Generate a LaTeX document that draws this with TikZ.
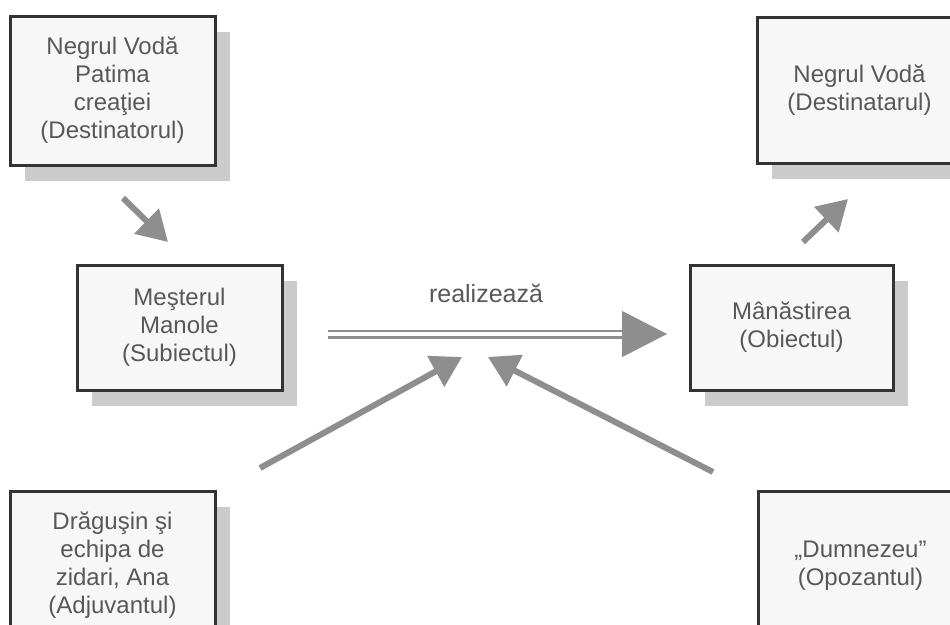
\documentclass[tikz,border=0pt]{standalone}
\usepackage{fontspec}
\setmainfont{Liberation Sans}
\usepackage{tikz}
\usetikzlibrary{shapes,arrows.meta,shadows}
\definecolor{boxline}{HTML}{333333}
\definecolor{boxfill}{HTML}{F7F7F7}
\definecolor{boxshade}{HTML}{CBCBCB}
\definecolor{arrowgray}{HTML}{8E8E8E}
\definecolor{textgray}{HTML}{585858}
\tikzstyle{actant} = [rectangle, draw=boxline, line width=3pt, fill=boxfill, text=textgray, minimum width=205pt, align=center, font=\fontsize{24}{28}\selectfont, drop shadow={shadow xshift=15pt, shadow yshift=-16pt, fill=boxshade, opacity=1}]
\tikzstyle{push} = [draw=arrowgray, line width=6pt, -{Triangle[length=30pt, width=34pt]}]
\tikzstyle{realize} = [draw=arrowgray, double=white, double distance=4pt, line width=2.5pt]
\tikzstyle{realize_head} = [draw=arrowgray, line width=1pt, -{Triangle[length=45pt, width=46pt]}]

\begin{document}
\begin{tikzpicture}[x=1pt, y=-1pt]
      \useasboundingbox (0,0) rectangle (950,624);
      \clip (0,0) rectangle (950,624);
      \node [actant, minimum height=149pt] (destinator) at (112.5,90.5) {Negrul Vodă\\Patima\\creaţiei\\(Destinatorul)};
      \node [actant, minimum height=146pt] (destinatar) at (859.5,90) {Negrul Vodă\\(Destinatarul)};
      \node [actant, minimum height=125pt] (subiect) at (179.5,327.5) {Meşterul\\Manole\\(Subiectul)};
      \node [actant, minimum height=125pt, minimum width=203pt] (obiect) at (791.5,327.5) {Mânăstirea\\(Obiectul)};
      \node [actant, minimum height=149pt] (adjuvant) at (112.5,565.5) {Drăguşin şi\\echipa de\\zidari, Ana\\(Adjuvantul)};
      \node [actant, minimum height=149pt] (opozant) at (860.5,566) {„Dumnezeu”\\(Opozantul)};
      \node [text=textgray, font=\fontsize{25}{30}\selectfont] (verb) at (486,293) {realizează};

      % free ends of the arrows
      \coordinate (dest_tail) at (123,198);
      \coordinate (dest_tip) at (168,242);
      \coordinate (destin_tail) at (803,242);
      \coordinate (destin_tip) at (848,199);
      \coordinate (real_start) at (328,334);
      \coordinate (real_head) at (622,334);
      \coordinate (real_tip) at (667,334);
      \coordinate (adj_tail) at (260,468);
      \coordinate (adj_tip) at (462,357);
      \coordinate (opoz_tail) at (713,472);
      \coordinate (opoz_tip) at (488,357);

      \path [push] (dest_tail) -- (dest_tip);
      \path [push] (destin_tail) -- (destin_tip);
      \path [realize] (real_start) -- (real_head);
      \path [realize_head] (real_head) -- (real_tip);
      \path [push] (adj_tail) -- (adj_tip);
      \path [push] (opoz_tail) -- (opoz_tip);
    \end{tikzpicture}
\end{document}
